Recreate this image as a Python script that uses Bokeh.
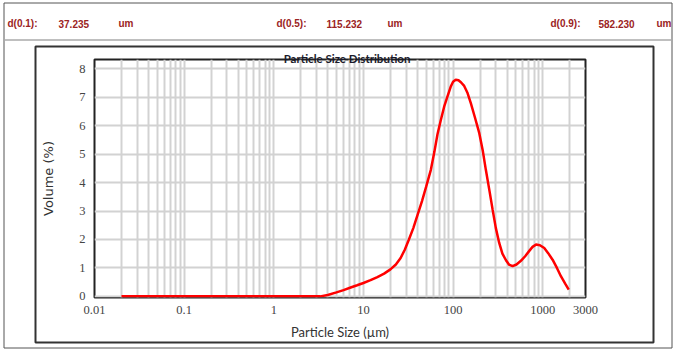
from bokeh.plotting import figure
from bokeh.models import FixedTicker
from bokeh.core.properties import value
from bokeh.embed import file_html
from bokeh.resources import INLINE

# ---- data ----
sizes = [0.02, 0.05, 0.1, 0.3, 1.0, 2.0, 3.3, 4.0, 5.0, 6.0, 7.2, 8.5, 10.0, 12.0,
         14.3, 17.0, 20.0, 23.0, 26.0, 29.0, 32.0, 36.0, 40.0, 45.0, 50.0, 56.5,
         62.0, 67.0, 73.0, 79.5, 87.0, 94.0, 100.0, 107.0, 115.0, 123.0, 133.0,
         145.0, 158.0, 175.0, 196.0, 215.0, 232.0, 255.0, 276.0, 300.0, 327.0,
         355.0, 389.0, 420.0, 461.0, 510.0, 571.0, 640.0, 708.0, 770.0, 841.0,
         930.0, 1040.0, 1150.0, 1288.0, 1440.0, 1600.0, 1780.0, 1950.0]
volumes = [0.0, 0.0, 0.0, 0.0, 0.0, 0.0, 0.0, 0.05, 0.14, 0.22, 0.31, 0.39, 0.47, 0.57,
           0.68, 0.8, 0.95, 1.12, 1.35, 1.65, 1.98, 2.4, 2.85, 3.35, 3.85, 4.45,
           5.1, 5.7, 6.2, 6.67, 7.05, 7.37, 7.55, 7.62, 7.6, 7.52, 7.4,
           7.15, 6.79, 6.3, 5.74, 5.1, 4.45, 3.7, 3.05, 2.4, 1.88,
           1.5, 1.27, 1.12, 1.06, 1.12, 1.25, 1.42, 1.6, 1.74, 1.82,
           1.8, 1.7, 1.52, 1.29, 1.0, 0.7, 0.45, 0.24]
x_ticks = [0.01, 0.1, 1, 10, 100, 1000, 3000]
x_tick_labels = ["0.01", "0.1", "1", "10", "100", "1000", "3000"]
y_ticks = [0, 1, 2, 3, 4, 5, 6, 7, 8]
header_names = ["d(0.1):", "d(0.5):", "d(0.9):"]
header_values = ["37.235", "115.232", "582.230"]
header_unit = "um"
title_text = "Particle Size Distribution"
x_label = "Particle Size (\u00b5m)"
y_label = "Volume (%)"

W, H = 676, 351
FL, FT, FR, FB = 94, 59, 585, 297   # plot frame edges in page pixels

# ---- background sheet: borders, header, title (page-pixel coordinates) ----
bg = figure(width=W, height=H, x_range=(0, W), y_range=(H, 0), min_border=0,
            min_border_left=0, min_border_right=0, min_border_top=0, min_border_bottom=0,
            x_axis_location=None, y_axis_location=None, output_backend="svg",
            toolbar_location=None)
bg.grid.visible = False
bg.outline_line_color = None
bg.background_fill_color = "white"
bg.border_fill_color = "white"

bg.quad(left=[3.5], right=[671.5], top=[2.5], bottom=[347.5], fill_color=None,
        line_color="#555555", line_width=1)
bg.segment(x0=[3.5], y0=[39.5], x1=[671.5], y1=[39.5], line_color="#aaaaaa", line_width=1.5)
bg.quad(left=[35], right=[653], top=[46], bottom=[342], fill_color=None,
        line_color="#333333", line_width=2)

hx, hy, ht = [], [], []
for i, (cx_name, cx_val, cx_unit) in enumerate([(7, 58, 118), (276, 326, 387), (550, 598, 656)]):
    hx += [cx_name, cx_val, cx_unit]
    hy += [23, 23, 23]
    ht += [header_names[i], header_values[i], header_unit]
bg.text(x=hx, y=hy, text=ht, text_font=value("Liberation Sans"), text_font_size="10px",
        text_font_style="bold", text_color="#9b2323", text_align="left",
        text_baseline="middle")

# ---- chart (transparent, laid over the sheet) ----
p = figure(width=W, height=H, x_axis_type="log", x_range=(0.01, 3000),
           y_range=(-0.04, 8.33), output_backend="svg", toolbar_location=None,
           min_border_left=FL, min_border_right=W - FR, min_border_top=FT,
           min_border_bottom=H - FB, title=None)
p.background_fill_alpha = 0
p.border_fill_alpha = 0
p.outline_line_color = "#222222"
p.outline_line_width = 2
p.styles = {"position": "absolute", "left": "0px", "top": "0px"}

minor = [k * 10.0 ** e for e in range(-2, 4) for k in range(2, 10) if k * 10.0 ** e < 3000]
p.xaxis.ticker = FixedTicker(ticks=x_ticks, minor_ticks=minor)
p.xaxis.major_label_overrides = {t: s for t, s in zip(x_ticks, x_tick_labels)}
p.yaxis.ticker = FixedTicker(ticks=y_ticks)

for ax in (p.xaxis, p.yaxis):
    ax.axis_line_color = None
    ax.major_tick_line_color = None
    ax.minor_tick_line_color = None
    ax.major_label_text_font = "Liberation Serif"
    ax.major_label_text_font_size = "12.5px"
    ax.major_label_text_color = "#444444"
    ax.axis_label_text_font_style = "normal"
    ax.axis_label_text_color = "#333333"
p.xaxis.axis_label_text_font = "Lato"
p.xaxis.axis_label_text_font_size = "13px"
p.yaxis.axis_label_text_font = "DejaVu Sans"
p.yaxis.axis_label_text_font_size = "13px"
p.yaxis.major_label_standoff = 3
p.xaxis.major_label_standoff = 2
p.xaxis.axis_label = x_label
p.yaxis.axis_label = y_label
p.xaxis.axis_label_standoff = 7
p.yaxis.axis_label_standoff = 20

for g in (p.xgrid, p.ygrid):
    g.grid_line_color = "#d2d2d2"
    g.grid_line_width = 2
p.xgrid.minor_grid_line_color = "#d2d2d2"
p.xgrid.minor_grid_line_width = 2

p.line(sizes, volumes, line_color="#ff0000", line_width=2.5)

# title drawn on a top sheet so it sits over the plot frame edge
top = figure(width=W, height=H, x_range=(0, W), y_range=(H, 0), min_border=0,
             min_border_left=0, min_border_right=0, min_border_top=0, min_border_bottom=0,
             x_axis_location=None, y_axis_location=None, output_backend="svg",
             toolbar_location=None)
top.grid.visible = False
top.outline_line_color = None
top.background_fill_alpha = 0
top.border_fill_alpha = 0
top.styles = {"position": "absolute", "left": "0px", "top": "0px", "pointer-events": "none"}
top.text(x=[346.5], y=[57.5], text=[title_text], text_font=value("Lato"),
         text_font_size="11.5px", text_font_style="bold", text_color="#1a1a2a",
         text_align="center", text_baseline="alphabetic")

open("out.html", "w").write(file_html([bg, p, top], INLINE))
